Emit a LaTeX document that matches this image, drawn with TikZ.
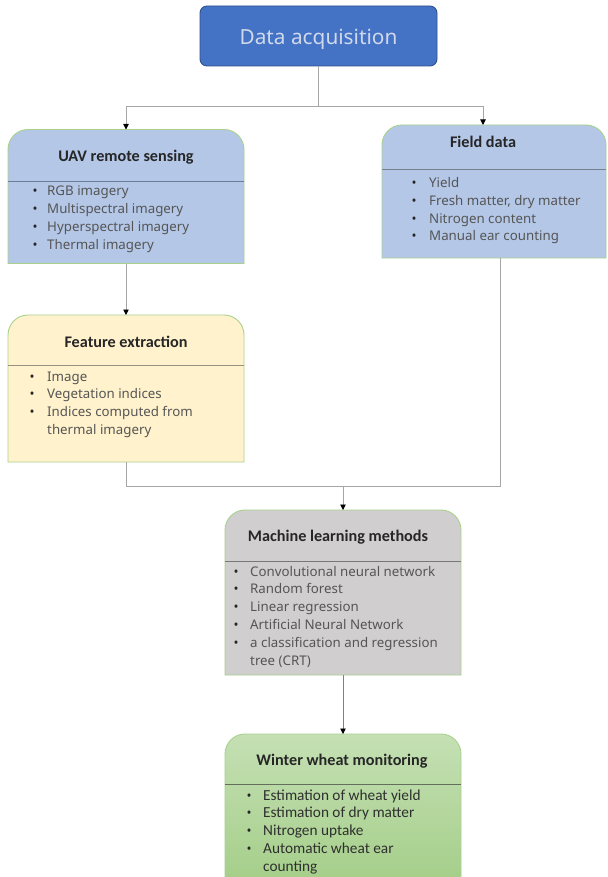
\documentclass[tikz,border=0pt]{standalone}
\usepackage{fontspec}
\setmainfont{Noto Sans}
\newfontfamily\headfont{Carlito}
\usetikzlibrary{arrows.meta,calc}

\definecolor{daFill}{HTML}{4472C4}
\definecolor{daEdge}{HTML}{2F528F}
\definecolor{daText}{HTML}{D0D9EA}
\definecolor{blueFill}{HTML}{B4C7E7}
\definecolor{yellowFill}{HTML}{FFF2CC}
\definecolor{greyFill}{HTML}{D0CECE}
\definecolor{greenTop}{HTML}{C5E0B4}
\definecolor{greenBot}{HTML}{A2CD86}
\definecolor{panelEdge}{HTML}{A9D18E}
\definecolor{titleInk}{HTML}{262626}
\definecolor{itemInk}{HTML}{555555}
\definecolor{wireGrey}{HTML}{A6A6A6}
\definecolor{divBlue}{HTML}{6E7D96}
\definecolor{divField}{HTML}{78808C}
\definecolor{divFeat}{HTML}{969182}
\definecolor{divGrey}{HTML}{787878}
\definecolor{divGreen}{HTML}{646E5F}

% one bullet list: name, bullet x, text x, first baseline, line step, {flag/text,...}
\newcommand\itemlines[6]{%
  \foreach \bul/\itm [count=\i] in {#6}{%
    \pgfmathsetmacro\yy{#4+(\i-1)*#5}%
    \ifnum\bul=1 \node[itembullet] (#1-b\i) at (#2,\yy) {\textbullet};\fi
    \node[itemtext] (#1-\i) at (#3,\yy) {\itm};
  }}

\begin{document}
\begin{tikzpicture}[x=1pt,y=-1pt,
  panelarea/.style={inner sep=0pt, outer sep=0pt},
  paneledge/.style={draw=panelEdge, line width=0.9pt},
  divider/.style={line width=0.8pt},
  paneltitle/.style={font=\headfont\bfseries\fontsize{16.2}{18}\selectfont, text=titleInk, inner sep=0pt},
  itemtext/.style={anchor=base west, inner sep=0pt, text=itemInk, font=\fontsize{13.3}{15}\selectfont},
  itembullet/.style={anchor=base, inner sep=0pt, text=titleInk, font=\fontsize{13.3}{15}\selectfont},
  wire/.style={draw=wireGrey, line width=0.9pt},
  arrowwire/.style={wire, -{Triangle[length=5.5pt,width=5.5pt,color=black]}}
]
\useasboundingbox (0,0) rectangle (607,877);
\fill[white] (0,0) rectangle (607,877);

% ---- top node ----
\node[draw=daEdge, fill=daFill, line width=0.9pt, rounded corners=7pt,
      minimum width=237pt, minimum height=60pt, inner sep=0pt,
      text=daText, font=\fontsize{20.8}{24}\selectfont] (da) at (318.5,36) {};
\node[text=daText, font=\fontsize{20.8}{24}\selectfont, inner sep=0pt, anchor=base] (da-t) at (318.5,45) {Data acquisition};

% ---- panel areas ----
\node[panelarea, minimum width=236pt, minimum height=134pt] (uav)   at (126,196.5) {};
\node[panelarea, minimum width=224pt, minimum height=133pt] (field) at (494,191.5) {};
\node[panelarea, minimum width=236pt, minimum height=147pt] (feat)  at (126,388.5) {};
\node[panelarea, minimum width=236pt, minimum height=165pt] (ml)    at (343,592.5) {};
\node[panelarea, minimum width=236pt, minimum height=160pt] (ww)    at (343,814) {};

% panel shapes: rounded top, square bottom
\foreach \p/\f in {uav/blueFill, field/blueFill, feat/yellowFill, ml/greyFill}{
  \draw[paneledge, fill=\f] (\p.south west) [rounded corners=20pt] -- (\p.north west)
       -- (\p.north east) [sharp corners] -- (\p.south east) -- cycle;
}
\draw[paneledge, top color=greenTop, bottom color=greenBot]
     (ww.south west) [rounded corners=20pt] -- (ww.north west)
     -- (ww.north east) [sharp corners] -- (ww.south east) -- cycle;

% dividers under the titles
\draw[divider, draw=divBlue, line width=1.6pt]
     ($(uav.north west)+(0,52)$) -- ($(uav.north east)+(0,52)$);
\draw[divider, draw=divField]
     ($(field.north west)+(0,44.5)$) -- ($(field.north east)+(0,44.5)$);
\draw[divider, draw=divFeat]
     ($(feat.north west)+(0,50)$) -- ($(feat.north east)+(0,50)$);
\draw[divider, draw=divGrey]
     ($(ml.north west)+(0,51)$) -- ($(ml.north east)+(0,51)$);
\draw[divider, draw=divGreen]
     ($(ww.north west)+(0,50)$) -- ($(ww.north east)+(0,50)$);

% ---- titles ----
\node[paneltitle] (uav-t)   at (126,157) {UAV remote sensing};
\node[paneltitle] (field-t) at (483,142) {Field data};
\node[paneltitle] (feat-t)  at (126,342) {Feature extraction};
\node[paneltitle] (ml-t)    at (338,537) {Machine learning methods};
\node[paneltitle] (ww-t)    at (342,761) {Winter wheat monitoring};

% ---- item lists ----
\itemlines{uavi}{35}{47}{196}{17.9}{1/RGB imagery, 1/Multispectral imagery, 1/Hyperspectral imagery, 1/Thermal imagery}
\itemlines{fieldi}{414}{429}{188}{17.6}{1/Yield, 1/{Fresh matter, dry matter}, 1/Nitrogen content, 1/Manual ear counting}
\itemlines{feati}{32}{47}{381}{17.8}{1/Image, 1/Vegetation indices, 1/Indices computed from, 0/thermal imagery}
\itemlines{mli}{236}{250}{576}{17.9}{1/Convolutional neural network, 1/Random forest, 1/Linear regression, 1/Artificial Neural Network, 1/a classification and regression, 0/tree (CRT)}
\begin{scope}[itemtext/.append style={font=\headfont\fontsize{15.3}{17}\selectfont, text=titleInk!80!itemInk},
              itembullet/.append style={font=\fontsize{13.3}{15}\selectfont, text=titleInk}]
\itemlines{wwi}{249}{263}{800}{17.8}{1/Estimation of wheat yield, 1/Estimation of dry matter, 1/Nitrogen uptake, 1/Automatic wheat ear, 0/counting}
\end{scope}

% ---- connectors ----
\coordinate (split)   at (318.5,106);
\coordinate (fieldin) at (483,125);
\coordinate (fieldout) at (500,258);
\coordinate (merge)   at (343,486);
\draw[wire] (da.south) -- (split);
\draw[arrowwire] (split) -| (uav.north);
\draw[arrowwire] (split) -| (fieldin);
\draw[arrowwire] (uav.south) -- (feat.north);
\draw[wire] (feat.south) |- (merge);
\draw[wire] (fieldout) |- (merge);
\draw[arrowwire] (merge) -- (ml.north);
\draw[arrowwire, draw=gray] (ml.south) -- (ww.north);
\end{tikzpicture}
\end{document}
